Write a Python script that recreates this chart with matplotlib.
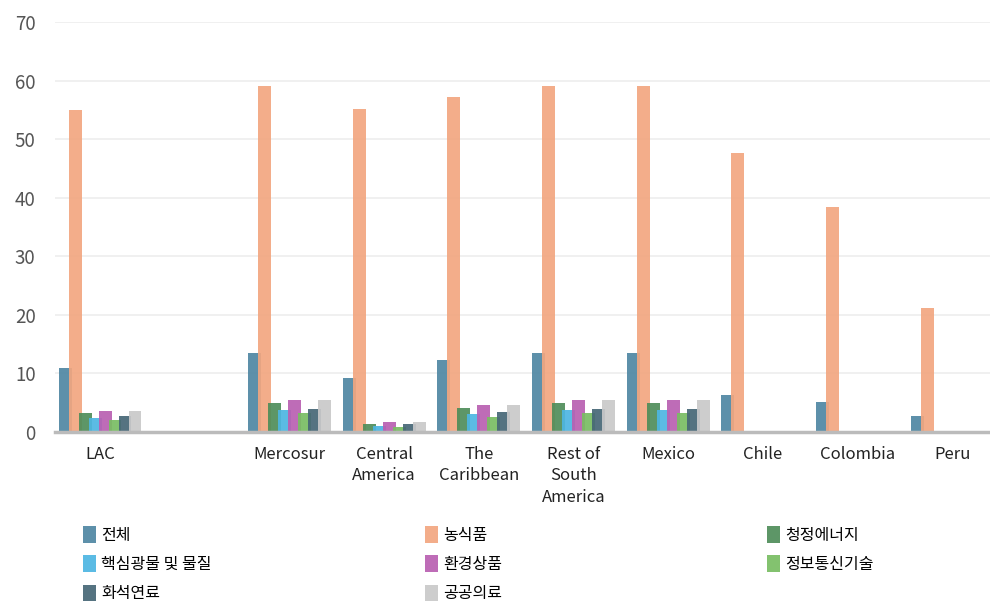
import numpy as np
import matplotlib
matplotlib.use("Agg")
import matplotlib.pyplot as plt
from matplotlib.patches import Patch

plt.rcParams['font.family'] = ['Noto Sans CJK KR', 'DejaVu Sans']

# 지역 (LAC 다음 빈 칸 포함)
regions = ['LAC', '', 'Mercosur', 'Central\nAmerica', 'The\nCaribbean',
           'Rest of\nSouth\nAmerica', 'Mexico', 'Chile', 'Colombia', 'Peru']

series_names = ['전체', '농식품', '청정에너지', '핵심광물 및 물질',
                '환경상품', '정보통신기술', '화석연료', '공공의료']
colors = ['#4f87a3', '#f2a680', '#4f8d5a', '#4db6e2',
          '#b95fb1', '#79bd63', '#466776', '#c9c9c9']

nan = np.nan
total    = [11.0, nan, 13.4, 9.3, 12.3, 13.4, 13.4, 6.3, 5.2, 2.7]
agri     = [54.9, nan, 59.0, 55.1, 57.2, 59.0, 59.0, 47.6, 38.4, 21.1]
clean    = [3.3, nan, 5.0, 1.4, 4.15, 5.0, 5.0, nan, nan, nan]
minerals = [2.4, nan, 3.75, 1.0, 3.05, 3.75, 3.75, nan, nan, nan]
env      = [3.6, nan, 5.45, 1.7, 4.55, 5.45, 5.45, nan, nan, nan]
ict      = [2.1, nan, 3.2, 0.85, 2.6, 3.2, 3.2, nan, nan, nan]
fossil   = [2.7, nan, 4.0, 1.35, 3.4, 4.0, 4.0, nan, nan, nan]
health   = [3.6, nan, 5.45, 1.7, 4.55, 5.45, 5.45, nan, nan, nan]

series = [total, agri, clean, minerals, env, ict, fossil, health]

fig = plt.figure(figsize=(9.9, 6.03), dpi=100)
ax = fig.add_axes([0.0556, 0.2836, 0.9444, 0.6800])

x = np.arange(len(regions))
step = 0.1056
width = 0.137
for i, (vals, c, name) in enumerate(zip(series, colors, series_names)):
    ax.bar(x + (i - 3.5) * step, vals, width, color=c, alpha=0.92,
           label=name, zorder=3)

ax.set_xlim(-0.475, 9.40)
ax.set_ylim(0, 70)
ax.set_yticks(range(0, 71, 10))
ax.grid(axis='y', color='#eeeeee', linewidth=1.2, zorder=0)
ax.set_xticks(x)
ax.set_xticklabels(regions, fontsize=12, color='#222222', linespacing=1.35)
ax.tick_params(axis='x', length=0, pad=10)
ax.tick_params(axis='y', length=0, pad=14, labelsize=13.5, labelcolor='#555555')
for s in ['top', 'right', 'left']:
    ax.spines[s].set_visible(False)
ax.spines['bottom'].set_color('#bbbbbb')
ax.spines['bottom'].set_linewidth(2.5)
ax.spines['bottom'].set_zorder(4)

# 범례: 3개 열을 각각 배치
legend_cols = [[0, 3, 6], [1, 4, 7], [2, 5]]
col_x = [0.0838, 0.4293, 0.7747]
for cols, lx in zip(legend_cols, col_x):
    handles = [Patch(facecolor=colors[k], alpha=0.92) for k in cols]
    labels = [series_names[k] for k in cols]
    fig.legend(handles, labels, loc='upper left', bbox_to_anchor=(lx, 0.127),
               frameon=False, fontsize=11.5, handlelength=0.8, handleheight=1.2,
               handletextpad=0.35, labelspacing=0.72, borderpad=0,
               borderaxespad=0)

fig.savefig('out.png', dpi=100)
